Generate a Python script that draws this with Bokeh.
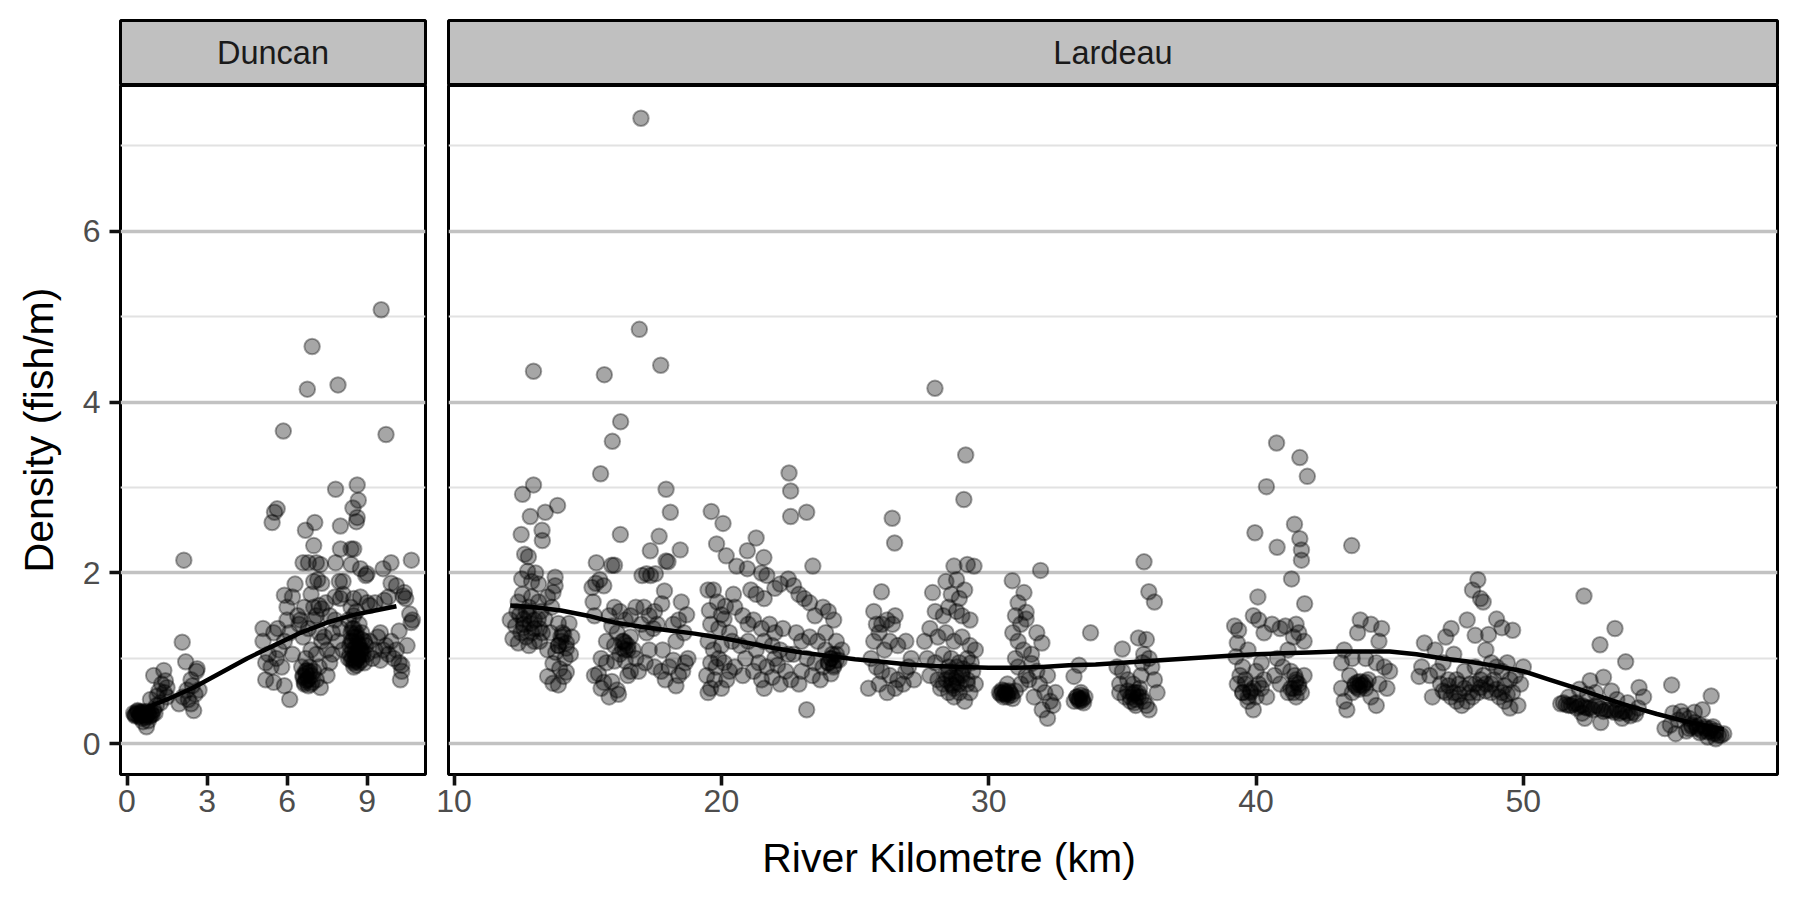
from bokeh.plotting import figure
from bokeh.models import Range1d, FixedTicker, Grid
from bokeh.layouts import column, row
from bokeh.embed import file_html
from bokeh.resources import INLINE
from bokeh.core.properties import value

FONT = "Liberation Sans"

panel_names = ["Duncan", "Lardeau"]
x_title = "River Kilometre (km)"
y_title = "Density (fish/m)"

y_ticks = [0, 2, 4, 6]
y_minor_ticks = [1, 3, 5, 7]
duncan_x_ticks = [0, 3, 6, 9]
lardeau_x_ticks = [10, 20, 30, 40, 50]

# ---------------- Duncan observations ----------------
duncan_km = [
    0.25, 0.35, 0.45, 0.5, 0.6, 0.65, 0.75, 0.8, 0.85, 0.9, 0.95, 1.0, 0.4, 0.55, 0.7, 0.73, 0.6, 0.8, 1.05, 0.3,
    1.0, 1.38, 1.44, 1.5, 1.13, 0.88, 1.26, 1.2, 1.3, 1.5, 1.1, 1.4,
    2.13, 2.07, 2.2, 2.63, 2.4, 2.25, 2.7, 1.95, 2.4, 2.5, 2.1, 2.6, 2.3, 2.55, 2.45,
    5.1, 5.2, 5.2, 5.1, 5.3, 5.4, 5.5, 5.5, 5.6, 5.65, 5.7, 5.8, 5.9, 5.9, 6.1, 5.44, 5.53, 5.63, 5.86, 5.9,
    6.0, 6.1, 6.2, 6.3, 6.2, 6.4, 6.45, 6.0,
    6.94, 6.76, 7.04, 6.69, 7.0, 6.6, 6.8, 7.1, 7.25, 7.0, 7.15, 7.3, 7.0, 7.2, 7.3, 6.55, 6.6, 6.65, 6.7, 6.75,
    6.8, 6.85, 6.9, 6.95, 7.0, 7.1, 7.2, 7.25, 6.7, 6.9, 7.1, 6.6, 6.8, 7.0, 7.2, 7.3, 6.5, 6.65, 6.9, 7.1,
    7.91, 7.82, 8.0, 8.0, 7.82, 7.96, 8.1, 7.8, 8.0, 8.1, 7.6, 7.7, 7.8, 7.9, 8.0, 7.5, 7.6, 7.7, 8.1, 7.5, 7.4, 7.45,
    8.63, 8.67, 8.47, 8.63, 8.6, 8.5, 8.4, 8.4, 8.75, 9.0, 8.95, 8.75, 8.5, 9.0, 9.1, 9.3, 8.3, 8.4, 8.5, 8.6,
    8.7, 8.8, 8.9, 8.35, 8.45, 8.55, 8.65, 8.75, 8.85, 8.95, 8.4, 8.5, 8.6, 8.7, 8.8, 8.3, 8.9, 9.0, 8.45, 8.65,
    8.8, 8.5, 8.6, 9.1, 9.2, 9.3, 8.4, 8.55, 8.7,
    9.53, 9.71, 9.9, 10.66, 9.6, 9.9, 10.1, 9.65, 9.8, 10.4, 10.45, 10.35, 10.6, 10.7, 10.65, 9.5, 9.6, 9.7, 9.8, 9.9,
    10.0, 10.1, 10.2, 10.3, 10.25, 10.3, 10.5, 10.2, 9.4, 9.5,
    # dense cores
    0.3, 0.4, 0.5, 0.55, 0.65, 0.7, 0.8, 0.9, 0.45, 0.6,
    8.35, 8.45, 8.55, 8.65, 8.75, 8.4, 8.5, 8.6, 8.7, 8.8, 8.45, 8.55, 8.65, 8.5, 8.6,
    6.6, 6.7, 6.8, 6.75, 6.65, 6.9, 6.85, 6.7,
]
duncan_density = [
    0.36, 0.35, 0.37, 0.33, 0.36, 0.34, 0.38, 0.35, 0.32, 0.37, 0.34, 0.4, 0.39, 0.30, 0.31, 0.20, 0.26, 0.27, 0.36, 0.33,
    0.80, 0.86, 0.74, 0.66, 0.56, 0.52, 0.48, 0.62, 0.70, 0.55, 0.45, 0.60,
    2.15, 1.19, 0.96, 0.88, 0.75, 0.63, 0.63, 0.47, 0.47, 0.39, 0.55, 0.85, 0.52, 0.58, 0.68,
    1.2, 0.95, 0.75, 1.35, 1.05, 0.9, 1.3, 0.72, 1.0, 1.35, 1.1, 0.9, 1.2, 0.68, 0.52, 2.59, 2.71, 2.75, 3.66, 1.74,
    1.45, 1.3, 1.72, 1.87, 1.05, 1.5, 1.4, 1.6,
    4.65, 4.15, 2.59, 2.5, 2.32, 2.12, 2.12, 2.12, 2.1, 1.9, 1.92, 1.88, 1.6, 1.62, 1.58, 0.9, 0.8, 0.7, 0.85, 0.75,
    0.68, 0.9, 0.8, 0.72, 0.85, 0.75, 0.9, 0.66, 1.0, 1.1, 1.05, 1.25, 1.35, 1.45, 1.3, 1.2, 1.45, 1.6, 1.75, 1.5,
    4.2, 2.98, 2.55, 2.28, 2.12, 1.9, 1.9, 1.72, 1.7, 1.75, 1.5, 1.3, 1.45, 1.2, 1.35, 1.1, 0.95, 1.05, 1.1, 0.8, 1.25, 1.65,
    3.03, 2.85, 2.76, 2.65, 2.6, 2.28, 2.28, 2.1, 2.05, 1.99, 1.97, 1.72, 1.7, 1.65, 1.62, 1.65, 1.45, 1.3, 1.35, 1.25,
    1.4, 1.3, 1.2, 1.15, 1.1, 1.05, 1.0, 1.1, 1.05, 1.15, 0.98, 0.95, 0.92, 0.95, 0.98, 1.0, 0.95, 1.05, 1.2, 1.18,
    1.22, 1.5, 1.55, 1.2, 1.0, 1.1, 1.6, 1.28, 1.12,
    5.08, 3.62, 2.12, 2.15, 2.05, 1.88, 1.85, 1.68, 1.72, 1.77, 1.70, 1.73, 1.52, 1.45, 1.42, 1.3, 1.1, 1.15, 1.05, 1.2,
    1.0, 1.1, 0.95, 0.85, 0.75, 0.92, 1.15, 1.32, 1.25, 0.98,
    # dense cores
    0.34, 0.38, 0.35, 0.37, 0.35, 0.33, 0.36, 0.34, 0.32, 0.38,
    1.05, 1.0, 0.97, 1.02, 1.05, 1.2, 1.25, 1.3, 1.15, 1.1, 1.35, 1.12, 1.08, 0.9, 0.98,
    0.78, 0.82, 0.76, 0.86, 0.72, 0.7, 0.84, 0.74,
]

# ---------------- Lardeau observations ----------------
lardeau_km = [
    # km 12-14.5
    12.97, 12.97, 12.56, 12.85, 13.41, 13.87, 12.51, 13.29, 13.3, 12.64, 12.78,
    12.53, 12.9, 13.16, 13.78, 13.78, 12.4, 12.45, 12.6, 12.8, 13.16, 13.5, 13.65, 13.7, 12.3, 12.6,
    12.85, 13.15, 13.4, 13.3, 12.2, 12.4, 12.8, 13.0, 13.9, 14.3, 14.0, 14.2, 14.4, 13.9, 13.8,
    13.7, 13.5, 13.7, 14.1, 14.2, 13.9, 12.5, 12.7, 13.0, 13.2, 13.5, 13.6, 12.35, 12.9, 13.25,
    14.15, 14.35, 13.95, 12.55, 12.75, 13.05, 12.1,
    # km 15-17
    15.62, 16.23, 15.92, 15.48, 16.22, 15.32, 15.9, 16.0, 15.16, 15.3, 15.45, 15.6, 15.2, 15.25, 16.0,
    16.2, 16.4, 16.6, 16.8, 15.8, 15.9, 16.1, 16.3, 16.5, 16.6, 16.4, 16.2, 16.7, 15.7, 16.0,
    15.5, 15.7, 16.0, 16.4, 16.8, 16.6, 15.4, 15.6, 15.9, 16.1, 15.8, 16.15, 16.5, 16.9, 15.25, 15.5,
    # km 17-19
    16.99, 16.93, 17.73, 17.93, 18.09, 17.67, 18.46, 17.34, 17.93, 18.0,
    17.03, 17.2, 17.35, 17.53, 17.87, 17.77, 18.5, 18.7, 17.1, 17.3,
    17.5, 17.0, 17.2, 17.45, 17.6, 18.2, 18.3, 18.6, 18.4, 17.8,
    17.5, 17.75, 18.05, 18.2, 18.4, 18.55, 18.65, 18.3, 17.9, 17.3, 17.15, 18.75,
    # km 19.3-20.6
    19.62, 20.06, 19.82, 20.18, 19.5, 19.7, 19.85, 19.55, 20.0, 20.15,
    20.1, 19.6, 19.9, 20.3, 19.5, 19.7, 20.0, 20.4, 19.6, 19.8,
    20.1, 20.3, 19.45, 19.75, 19.6, 19.5, 20.0, 20.2, 20.5, 19.9, 20.5, 20.45,
    # km 20.6-22.6
    21.3, 20.97, 21.59, 20.57, 20.97, 21.5, 21.7, 22.0, 22.2, 22.5,
    21.1, 21.3, 21.6, 20.8, 21.0, 21.2, 21.5, 21.8, 22.0, 22.3,
    21.0, 21.3, 21.6, 21.9, 22.2, 22.5, 20.9, 21.4, 21.7, 22.1,
    22.4, 21.2, 21.5, 21.9, 22.2, 20.8, 21.6, 22.6, 22.0, 20.7,
    # km 22.5-24.5
    22.53, 22.59, 22.59, 23.19, 23.42, 22.7, 22.9, 23.1, 23.3, 23.5,
    23.8, 24.0, 24.2, 22.8, 23.0, 23.3, 23.6, 23.9, 24.1, 24.3,
    23.2, 23.5, 23.8, 24.0, 24.2, 24.4, 23.0, 23.4, 22.9, 23.19,
    24.1, 23.7, 24.3, 24.5, 22.7, 23.9,
    # km 25.5-27.2
    26.39, 26.48, 25.99, 25.7, 25.8, 25.9, 26.0, 26.2, 26.4, 26.5,
    26.3, 25.7, 26.1, 26.6, 25.6, 25.8, 26.0, 26.3, 26.6, 26.9,
    25.5, 25.9, 26.2, 26.5, 26.8, 27.0, 27.1, 26.9, 27.2,
    # km 27.5-29.6
    27.99, 29.14, 29.07, 29.45, 28.7, 29.2, 28.8, 28.4, 27.9, 28.6,
    28.9, 29.1, 28.0, 28.3, 28.5, 28.8, 29.0, 29.3, 27.6, 27.8,
    28.1, 28.4, 28.7, 29.0, 29.3, 27.7, 28.0, 28.3, 28.6, 28.9,
    29.2, 29.5, 27.8, 28.1, 28.4, 28.6, 28.8, 29.0, 29.2, 29.4,
    28.5, 28.7, 28.9, 29.1, 29.3, 28.2, 29.5, 28.8, 28.5, 29.05,
    28.65, 28.3, 29.35,
    # km 30.3-32.5
    30.88, 31.32, 31.94, 31.1, 31.0, 31.2, 30.9, 31.1, 31.4, 31.4,
    31.3, 31.0, 31.99, 31.6, 31.8, 31.5, 31.9, 32.1, 32.3, 32.2,
    32.0, 31.7, 30.5, 30.6, 30.7, 30.8, 30.9, 31.0, 30.4, 31.2,
    31.4, 31.6, 32.4, 32.5, 31.1, 30.7, 32.2, 31.8,
    # km 33-34
    33.81, 33.19, 33.38, 33.3, 33.4, 33.5, 33.45, 33.2, 33.6, 33.55,
    # km 34.8-36.3
    35.81, 35.99, 36.2, 35.0, 35.6, 35.9, 34.8, 35.0, 35.2, 35.4,
    35.5, 35.6, 35.8, 35.9, 36.0, 35.3, 35.1, 34.9, 35.7, 36.1,
    36.2, 36.0, 35.8, 35.75, 36.3, 35.4, 34.9, 35.5, 35.2, 35.65,
    # km 39.2-40.4
    39.96, 40.39, 40.07, 39.2, 39.35, 39.3, 39.25, 39.9, 40.1, 40.3,
    39.5, 39.4, 39.6, 39.8, 40.0, 39.9, 39.7, 39.5, 40.2, 40.3,
    39.3, 40.0, 40.2, 39.7, 40.4,
    # km 40.5-42
    40.77, 41.64, 41.92, 40.79, 41.44, 41.64, 41.7, 41.7, 41.33, 41.82,
    40.6, 40.9, 41.1, 41.5, 41.6, 41.8, 41.4, 41.2, 40.8, 41.0,
    41.3, 41.5, 41.6, 41.7, 41.4, 41.2, 40.9, 40.7, 41.8, 41.5,
    # km 43.2-45
    43.58, 43.9, 44.3, 43.8, 44.7, 44.6, 43.3, 43.2, 43.6, 44.1,
    44.5, 44.8, 45.0, 44.9, 43.2, 43.3, 43.4, 44.5, 44.3, 43.89,
    44.0, 44.1, 43.7, 43.8, 44.2, 43.5, 44.6, 43.6,
    # km 46-48.5
    46.3, 46.2, 46.1, 46.7, 47.1, 47.3, 47.9, 48.1, 48.3, 48.4,
    48.5, 48.2, 47.4, 46.8, 46.5, 46.9, 47.1, 47.3, 47.5, 47.7,
    47.9, 48.1, 48.3, 47.2, 47.6, 48.0, 48.4, 46.6, 47.8, 48.2, 47.0,
    # km 48.6-50
    49.0, 49.2, 49.6, 48.7, 48.6, 48.8, 49.0, 49.2, 49.4, 49.5,
    49.7, 49.9, 48.6, 48.8, 49.1, 49.3, 49.5, 49.8, 49.6, 48.9, 49.3, 50.0,
    # km 51.4-54.6
    52.27, 53.43, 52.87, 53.83, 54.33, 51.4, 51.6, 51.8, 52.0, 52.2,
    52.4, 52.6, 52.8, 53.0, 53.2, 53.4, 53.6, 53.8, 54.0, 54.2,
    52.1, 52.5, 53.0, 52.7, 53.5, 53.9, 54.3, 52.3, 52.9, 51.7,
    52.4, 53.3, 54.5, 52.2, 53.7,
    # km 55.3-57.5
    55.55, 57.03, 56.7, 56.4, 55.5, 55.8, 56.0, 56.3, 56.5, 56.8,
    57.0, 57.2, 57.4, 57.2, 56.9, 56.6, 56.2, 55.9, 55.6, 55.3,
    56.1, 57.1, 57.5, 55.7,
    # dense cores
    30.5, 30.6, 30.7, 30.55, 30.65, 30.75, 30.85, 30.45,
    33.3, 33.35, 33.45, 33.5, 33.4,
    35.3, 35.4, 35.5, 35.6, 35.7, 35.45,
    43.7, 43.8, 43.9, 44.0, 44.1, 43.85,
    47.0, 47.2, 47.4, 47.6, 47.8, 48.0, 48.2, 48.4, 48.6, 48.8, 49.0, 49.2, 47.5, 48.5, 49.4,
    51.5, 51.7, 51.9, 52.1, 52.3, 52.5, 52.7, 52.9, 53.1, 53.3, 53.5, 53.7, 53.9, 54.1, 52.0,
    56.3, 56.5, 56.7, 56.9, 57.1, 57.3, 56.4, 56.6, 56.8, 57.0, 57.2, 56.2,
    28.4, 28.6, 28.8, 29.0, 29.2, 28.5, 28.7, 28.9,
    39.5, 39.7, 39.9, 40.1, 39.6, 39.8,
    41.3, 41.4, 41.5, 41.6, 41.45,
    24.0, 24.1, 24.2, 24.3, 24.15,
    16.3, 16.4, 16.5, 16.35,
    13.9, 14.0, 14.1, 14.2, 14.05,
    12.6, 12.8, 13.0, 13.2, 12.7, 12.9,
]
lardeau_density = [
    # km 12-14.5
    4.36, 3.03, 2.92, 2.66, 2.71, 2.79, 2.45, 2.5, 2.38, 2.22, 2.19,
    1.93, 1.9, 1.87, 1.95, 1.85, 1.66, 1.51, 1.46, 1.6, 1.66, 1.72, 1.6, 1.77, 1.38, 1.36,
    1.41, 1.46, 1.46, 1.3, 1.23, 1.18, 1.15, 1.2, 1.41, 1.41, 1.25, 1.18, 1.25, 1.15, 1.07,
    0.94, 0.79, 0.71, 0.79, 0.84, 0.69, 1.3, 1.25, 1.35, 1.2, 1.1, 1.3, 1.55, 1.72, 1.55,
    1.0, 1.05, 0.88, 1.75, 2.02, 2.0, 1.45,
    # km 15-17
    4.32, 3.77, 3.54, 3.16, 2.45, 2.12, 2.09, 2.09, 1.83, 1.88, 1.92, 1.85, 1.66, 1.5, 1.6,
    1.55, 1.45, 1.5, 1.6, 1.5, 1.38, 1.3, 1.2, 1.15, 1.25, 1.1, 1.05, 1.1, 1.2, 1.15,
    1.0, 0.95, 0.97, 0.97, 1.0, 0.85, 0.82, 0.72, 0.73, 0.63, 0.55, 0.58, 0.8, 0.85, 0.8, 0.65,
    # km 17-19
    7.32, 4.85, 4.43, 2.98, 2.71, 2.43, 2.27, 2.26, 2.14, 2.13,
    1.97, 1.99, 1.97, 1.99, 1.79, 1.64, 1.66, 1.51, 1.6, 1.5,
    1.55, 1.4, 1.3, 1.35, 1.4, 1.4, 1.2, 1.3, 1.45, 1.1,
    0.9, 0.85, 0.9, 0.98, 0.8, 0.85, 0.95, 0.68, 0.75, 1.1, 0.95, 1.0,
    # km 19.3-20.6
    2.72, 2.58, 2.34, 2.20, 1.8, 1.8, 1.66, 1.56, 1.51, 1.61,
    1.46, 1.4, 1.35, 1.3, 1.2, 1.1, 1.15, 1.2, 0.95, 0.9,
    0.95, 0.85, 0.8, 0.75, 0.65, 0.6, 0.65, 0.75, 0.9, 1.0, 1.6, 1.75,
    # km 20.6-22.6
    2.41, 2.26, 2.18, 2.08, 2.05, 2.0, 1.97, 1.82, 1.87, 1.93,
    1.8, 1.75, 1.7, 1.5, 1.4, 1.45, 1.35, 1.4, 1.3, 1.35,
    1.2, 1.1, 1.2, 1.15, 1.1, 1.05, 1.0, 0.95, 0.9, 0.92,
    0.85, 0.85, 0.75, 0.78, 0.7, 0.8, 0.65, 0.75, 1.0, 1.15,
    # km 22.5-24.5
    3.17, 2.96, 2.66, 2.71, 2.08, 1.85, 1.75, 1.7, 1.65, 1.5,
    1.6, 1.55, 1.45, 1.3, 1.2, 1.25, 1.2, 1.1, 1.0, 1.05,
    1.0, 0.95, 0.9, 0.95, 0.9, 0.98, 0.85, 0.8, 0.7, 0.40,
    0.82, 0.75, 1.2, 1.1, 1.05, 1.3,
    # km 25.5-27.2
    2.64, 2.35, 1.78, 1.55, 1.4, 1.3, 1.4, 1.45, 1.4, 1.5,
    1.2, 1.2, 1.1, 1.15, 1.0, 0.9, 0.85, 0.8, 0.75, 0.85,
    0.65, 0.7, 0.6, 0.65, 0.7, 0.9, 1.0, 1.2, 0.75,
    # km 27.5-29.6
    4.16, 3.38, 2.86, 2.08, 2.08, 2.10, 1.92, 1.90, 1.77, 1.75,
    1.7, 1.8, 1.55, 1.5, 1.6, 1.55, 1.5, 1.45, 1.2, 1.35,
    1.25, 1.3, 1.2, 1.25, 1.15, 1.0, 0.95, 1.05, 1.0, 0.95,
    1.0, 1.1, 0.8, 0.75, 0.82, 0.78, 0.72, 0.8, 0.7, 0.85,
    0.6, 0.55, 0.6, 0.5, 0.6, 0.65, 0.7, 0.9, 0.9, 0.88,
    0.68, 0.7, 0.95,
    # km 30.3-32.5
    1.91, 1.77, 2.03, 1.65, 1.5, 1.4, 1.3, 1.2, 1.54, 1.46,
    1.1, 1.0, 1.18, 0.94, 0.85, 0.75, 0.7, 0.6, 0.5, 0.30,
    0.4, 0.55, 0.63, 0.58, 0.55, 0.6, 0.53, 0.62, 0.6, 0.7,
    0.8, 1.05, 0.45, 0.6, 0.9, 0.7, 0.8, 1.3,
    # km 33-34
    1.30, 0.79, 0.92, 0.55, 0.53, 0.51, 0.6, 0.5, 0.55, 0.48,
    # km 34.8-36.3
    2.13, 1.78, 1.66, 1.11, 1.24, 1.22, 0.9, 0.85, 0.75, 0.7,
    0.6, 0.55, 0.5, 0.45, 0.4, 0.5, 0.55, 0.7, 0.8, 0.9,
    0.75, 1.0, 1.05, 0.95, 0.6, 0.58, 0.6, 0.45, 0.62, 0.65,
    # km 39.2-40.4
    2.47, 3.01, 1.72, 1.38, 1.33, 1.18, 1.02, 1.5, 1.45, 1.3,
    0.9, 0.8, 0.7, 0.6, 0.55, 0.4, 0.5, 0.6, 0.65, 0.75,
    0.7, 0.85, 0.95, 1.1, 0.55,
    # km 40.5-42
    3.52, 3.35, 3.13, 2.30, 2.57, 2.40, 2.27, 2.15, 1.93, 1.64,
    1.4, 1.35, 1.38, 1.4, 1.3, 1.2, 1.25, 1.1, 1.0, 0.9,
    0.85, 0.75, 0.7, 0.6, 0.65, 0.6, 0.7, 0.8, 0.8, 0.55,
    # km 43.2-45
    2.32, 1.45, 1.4, 1.3, 1.35, 1.2, 1.1, 0.95, 1.0, 1.0,
    0.95, 0.9, 0.85, 0.65, 0.65, 0.5, 0.4, 0.45, 0.55, 0.69,
    0.7, 0.65, 0.68, 0.72, 0.75, 0.8, 0.7, 0.6,
    # km 46-48.5
    1.18, 0.9, 0.79, 1.1, 1.25, 1.35, 1.45, 1.8, 1.92, 1.7,
    1.66, 1.27, 1.05, 0.85, 0.8, 0.7, 0.6, 0.55, 0.5, 0.45,
    0.5, 0.55, 0.6, 0.75, 0.7, 0.7, 0.75, 0.55, 0.85, 0.9, 0.95,
    # km 48.6-50
    1.46, 1.36, 1.33, 1.28, 1.1, 0.95, 0.9, 0.85, 0.95, 0.75,
    0.8, 0.7, 0.7, 0.6, 0.55, 0.5, 0.42, 0.45, 0.6, 0.75, 0.68, 0.9,
    # km 51.4-54.6
    1.73, 1.35, 1.16, 0.96, 0.66, 0.47, 0.46, 0.45, 0.48, 0.45,
    0.42, 0.4, 0.44, 0.38, 0.4, 0.37, 0.36, 0.38, 0.33, 0.35,
    0.64, 0.74, 0.78, 0.6, 0.52, 0.48, 0.42, 0.3, 0.25, 0.55,
    0.58, 0.62, 0.55, 0.36, 0.3,
    # km 55.3-57.5
    0.69, 0.56, 0.40, 0.37, 0.22, 0.28, 0.33, 0.22, 0.2, 0.18,
    0.15, 0.12, 0.1, 0.06, 0.08, 0.13, 0.3, 0.38, 0.36, 0.18,
    0.15, 0.2, 0.12, 0.12,
    # dense cores
    0.6, 0.62, 0.58, 0.55, 0.6, 0.62, 0.57, 0.58,
    0.55, 0.52, 0.57, 0.53, 0.5,
    0.55, 0.6, 0.52, 0.6, 0.55, 0.48,
    0.7, 0.66, 0.73, 0.68, 0.72, 0.64,
    0.62, 0.68, 0.6, 0.58, 0.65, 0.6, 0.7, 0.66, 0.62, 0.7, 0.64, 0.6, 0.75, 0.8, 0.58,
    0.48, 0.45, 0.47, 0.44, 0.43, 0.42, 0.45, 0.41, 0.4, 0.39, 0.4, 0.38, 0.36, 0.37, 0.42,
    0.2, 0.18, 0.15, 0.14, 0.12, 0.1, 0.25, 0.22, 0.2, 0.18, 0.15, 0.18,
    0.75, 0.7, 0.78, 0.82, 0.75, 0.85, 0.65, 0.7,
    0.6, 0.55, 0.65, 0.7, 0.75, 0.62,
    0.65, 0.6, 0.72, 0.66, 0.8,
    0.95, 1.0, 0.92, 0.98, 1.05,
    1.12, 1.18, 1.1, 1.2,
    1.15, 1.2, 1.28, 1.12, 1.3,
    1.4, 1.5, 1.45, 1.35, 1.55, 1.3,
]

# ---------------- smoothed (loess) trend ----------------
duncan_smooth_km = [0.7, 1.5, 2.5, 3.5, 4.5, 5.5, 6.5, 7.5, 8.5, 9.3, 10.1]
duncan_smooth_density = [0.42, 0.52, 0.66, 0.83, 1.0, 1.15, 1.30, 1.42, 1.51, 1.56, 1.61]

lardeau_smooth_km = [12.1, 13, 14, 15, 16, 17, 18, 19, 20, 21, 22, 23, 24, 25, 26, 27, 28, 29, 30, 31, 32,
                     33, 34, 35, 36, 37, 38, 39, 40, 41, 42, 43, 44, 45, 46, 47, 48, 49, 50, 51, 52, 53,
                     54, 55, 56, 57, 57.5]
lardeau_smooth_density = [1.62, 1.60, 1.56, 1.50, 1.42, 1.37, 1.33, 1.29, 1.24, 1.18, 1.12, 1.07, 1.03, 0.99,
                          0.96, 0.93, 0.91, 0.90, 0.89, 0.89, 0.90, 0.92, 0.93, 0.95, 0.97, 0.99, 1.01, 1.03,
                          1.05, 1.06, 1.07, 1.08, 1.08, 1.08, 1.05, 1.00, 0.96, 0.91, 0.85, 0.75, 0.65, 0.54,
                          0.44, 0.35, 0.27, 0.20, 0.17]

assert len(duncan_km) == len(duncan_density), (len(duncan_km), len(duncan_density))
assert len(lardeau_km) == len(lardeau_density), (len(lardeau_km), len(lardeau_density))
assert len(duncan_smooth_km) == len(duncan_smooth_density)
assert len(lardeau_smooth_km) == len(lardeau_smooth_density)

# ---------------- layout constants ----------------
Y_RANGE = Range1d(-0.358, 7.703)
LEFT = 120
A_FRAME_W = 305
A_RIGHT = 3
B_LEFT = 20
B_FRAME_W = 1329
B_RIGHT = 22
STRIP_TOP = 20
STRIP_H = 65
PANEL_H = 689
PANEL_BOTTOM = 60
TITLE_H = 65

STRIP_FILL = "#C0C0C0"
MAJOR_GRID = "#C2C2C2"
MINOR_GRID = "#E2E2E2"
TICK_TEXT = "#4D4D4D"


def make_strip(label, left, frame_w, right):
    s = figure(width=left + frame_w + right, height=STRIP_TOP + STRIP_H,
               x_range=Range1d(0, 1), y_range=Range1d(0, 1),
               min_border_left=left, min_border_right=right,
               min_border_top=STRIP_TOP, min_border_bottom=0,
               x_axis_location=None, y_axis_location=None,
               output_backend="svg", toolbar_location=None)
    s.grid.visible = False
    s.background_fill_color = STRIP_FILL
    s.border_fill_color = "white"
    s.outline_line_color = "black"
    s.outline_line_width = 3
    s.text(x=[0.5], y=[0.5], text=[label], text_font=value(FONT), text_font_size="32.5px",
           text_color="#1A1A1A", text_align="center", text_baseline="middle")
    return s


def make_panel(xlim, xticks, left, frame_w, right, show_y):
    p = figure(width=left + frame_w + right, height=PANEL_H + PANEL_BOTTOM,
               x_range=Range1d(*xlim), y_range=Y_RANGE,
               min_border_left=left, min_border_right=right,
               min_border_top=0, min_border_bottom=PANEL_BOTTOM,
               x_axis_location="below", y_axis_location=("left" if show_y else None),
               output_backend="svg", toolbar_location=None)
    p.xgrid.visible = False
    p.ygrid.visible = False
    p.background_fill_color = "white"
    p.border_fill_color = "white"
    p.outline_line_color = "black"
    p.outline_line_width = 3
    grid = Grid(dimension=1, ticker=FixedTicker(ticks=y_ticks, minor_ticks=y_minor_ticks),
                grid_line_color=MAJOR_GRID, grid_line_width=3.6,
                minor_grid_line_color=MINOR_GRID, minor_grid_line_width=1.8)
    p.add_layout(grid)

    xa = p.xaxis[0]
    xa.ticker = FixedTicker(ticks=xticks)
    xa.axis_line_color = None
    xa.major_tick_line_color = "#111111"
    xa.major_tick_line_width = 3.6
    xa.major_tick_in = 0
    xa.major_tick_out = 11
    xa.minor_tick_line_color = None
    xa.major_label_text_font = FONT
    xa.major_label_text_font_size = "32px"
    xa.major_label_text_color = TICK_TEXT
    xa.major_label_standoff = 4

    if show_y:
        ya = p.yaxis[0]
        ya.ticker = FixedTicker(ticks=y_ticks)
        ya.axis_line_color = None
        ya.major_tick_line_color = "#111111"
        ya.major_tick_line_width = 3.6
        ya.major_tick_in = 0
        ya.major_tick_out = 11
        ya.minor_tick_line_color = None
        ya.major_label_text_font = FONT
        ya.major_label_text_font_size = "32px"
        ya.major_label_text_color = TICK_TEXT
        ya.major_label_standoff = 9
        ya.axis_label = y_title
        ya.axis_label_text_font = FONT
        ya.axis_label_text_font_size = "41px"
        ya.axis_label_text_font_style = "normal"
        ya.axis_label_text_color = "black"
        ya.axis_label_standoff = 18
    return p


def add_data(p, xs, ys, sx, sy):
    p.scatter(x=xs, y=ys, marker="circle", size=15.5,
              fill_color="black", fill_alpha=0.35,
              line_color="black", line_alpha=0.35, line_width=2)
    p.line(x=sx, y=sy, line_color="black", line_width=4.5)


strip_a = make_strip(panel_names[0], LEFT, A_FRAME_W, A_RIGHT)
strip_b = make_strip(panel_names[1], B_LEFT, B_FRAME_W, B_RIGHT)

panel_a = make_panel((-0.244, 11.19), duncan_x_ticks, LEFT, A_FRAME_W, A_RIGHT, True)
panel_b = make_panel((9.79, 59.51), lardeau_x_ticks, B_LEFT, B_FRAME_W, B_RIGHT, False)

add_data(panel_a, duncan_km, duncan_density, duncan_smooth_km, duncan_smooth_density)
add_data(panel_b, lardeau_km, lardeau_density, lardeau_smooth_km, lardeau_smooth_density)

total_w = LEFT + A_FRAME_W + A_RIGHT + B_LEFT + B_FRAME_W + B_RIGHT
title_fig = figure(width=total_w, height=TITLE_H,
                   x_range=Range1d(0, total_w), y_range=Range1d(0, TITLE_H),
                   min_border=0, x_axis_location=None, y_axis_location=None,
                   output_backend="svg", toolbar_location=None)
title_fig.grid.visible = False
title_fig.outline_line_color = None
title_fig.background_fill_color = "white"
title_fig.border_fill_color = "white"
title_fig.text(x=[(LEFT + (LEFT + A_FRAME_W + A_RIGHT + B_LEFT + B_FRAME_W)) / 2], y=[TITLE_H - 23],
               text=[x_title], text_font=value(FONT), text_font_size="41px",
               text_color="black", text_align="center", text_baseline="middle")

layout = column(row(strip_a, strip_b), row(panel_a, panel_b), title_fig)

open("out.html", "w").write(file_html(layout, INLINE))
